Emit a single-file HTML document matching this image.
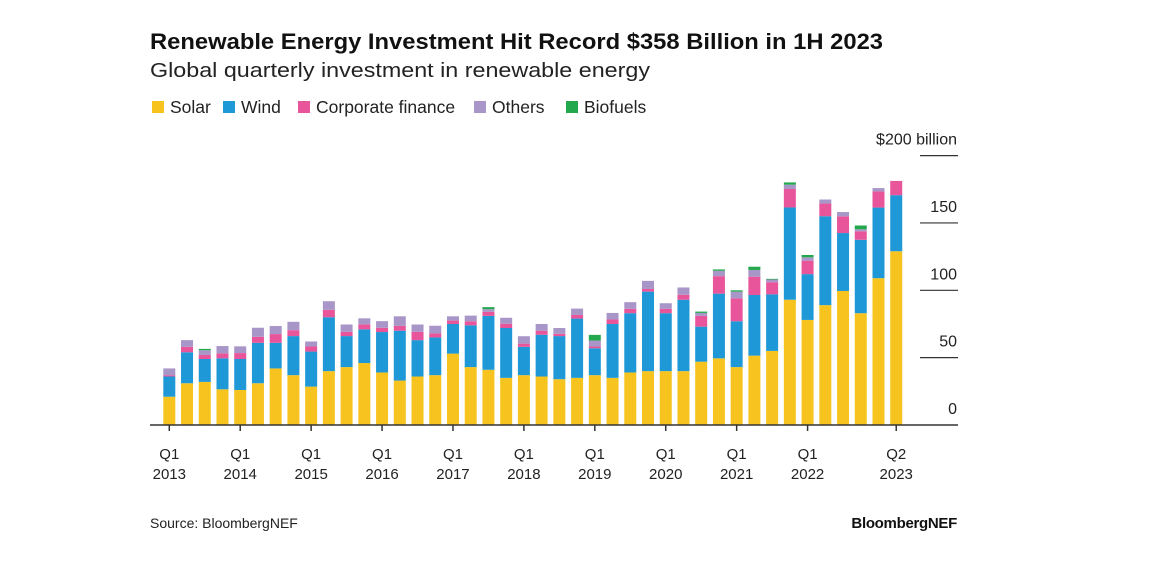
<!DOCTYPE html>
<html><head><meta charset="utf-8"><style>
body{margin:0;background:#fff;}
svg{display:block;font-family:"Liberation Sans",Arial,sans-serif;}
</style></head><body>
<svg id="chart" width="1149" height="574" viewBox="0 0 1149 574">
<text x="150" y="49" font-size="22" font-weight="bold" fill="#111" textLength="733" lengthAdjust="spacingAndGlyphs">Renewable Energy Investment Hit Record $358 Billion in 1H 2023</text>
<text x="150" y="77" font-size="20" fill="#222" textLength="500" lengthAdjust="spacingAndGlyphs">Global quarterly investment in renewable energy</text>
<g id="legend"></g>
<g id="grid"></g>
<g id="bars"></g>
<g id="xaxis"></g>
<text x="150" y="528" font-size="14" fill="#222">Source: BloombergNEF</text>
<text x="957" y="528" font-size="15" font-weight="bold" fill="#111" text-anchor="end" letter-spacing="-0.3">BloombergNEF</text>
</svg>
<script>
const solar=[21,31,32,26.5,26,31,42,37,28.5,40,43,46,39,33,36,37,53,43,41,35,37,36,34,35,37,35,39,40,40,40,47,49.5,43,51.5,55,93,78,89,99.5,83,109,129];
const wind=[15,23,17,23,23,30,19,29,26,40,23,25,30,37,27,28,22,31,40,37,21,31,32,44,20,40,44,59,43,53,26,48,34,45,42,68.5,34,66,43,54.5,52.4,41.6];
const corporate=[1,4,3,3.7,4.4,4.5,6.5,4.4,3.8,5.5,3.2,3.7,3.2,3.7,6.2,3,2.5,3,3,3.2,2.4,3,1.7,2.7,1.3,3.3,3.2,2,3.2,3.7,8,13,17,13.6,9,13.7,10,9.4,12.4,6.3,12,10.6];
const others=[5,5,3.5,5.4,5,6.7,6,6.2,3.7,6.4,5.4,4.5,4.9,7,5.4,5.7,3.2,4.2,2,4.4,5.5,5,4.3,4.7,4.4,4.9,5,6,4.2,5.4,2.2,4,5,5,2,3.2,2.5,3,3.2,1.5,2.5,0];
const biofuels=[0,0,1,0,0,0,0,0,0,0,0,0,0,0,0,0,0,0,1.5,0,0,0,0,0,4.2,0,0,0,0,0,1,1,1,2.4,0.5,1.7,1.7,0,0,2.8,0,0];
const yTicks=[0,50,100,150,200];
const yTickLabels=["0","50","100","150","$200 billion"];
const xTickIndex=[0,4,8,12,16,20,24,28,32,36,41];
const xTickQ=["Q1","Q1","Q1","Q1","Q1","Q1","Q1","Q1","Q1","Q1","Q2"];
const xTickYear=["2013","2014","2015","2016","2017","2018","2019","2020","2021","2022","2023"];
const seriesNames=["Solar","Wind","Corporate finance","Others","Biofuels"];
const colors=["#f7c41f","#1e98d6","#e8559b","#a996c8","#23a84e"];

const NS="http://www.w3.org/2000/svg";
function mk(tag,attrs,parent){const e=document.createElementNS(NS,tag);for(const k in attrs)e.setAttribute(k,attrs[k]);parent.appendChild(e);return e;}
const y0=425, ppu=1.347;
const yS=v=>y0-v*ppu;
const xS=i=>169.3+i*17.73;
const bw=12;

// legend
const lg=document.getElementById('legend');
const lx=[152,223,298,474,566];
seriesNames.forEach((n,i)=>{
  const r=mk('rect',{x:lx[i],y:101,width:12,height:12,fill:colors[i]},lg);
  
  
  const t=mk('text',{x:lx[i]+18,y:113,'font-size':17.5,fill:'#222'},lg);
  t.textContent=n;
  
  
});

// y grid
const g=document.getElementById('grid');
yTicks.forEach((v,i)=>{
  if(v>0){
    const l=mk('line',{x1:920,x2:958,y1:yS(v),y2:yS(v),stroke:'#333','stroke-width':1.2},g);
    
    
  }
  const t=mk('text',{x:957,y:yS(v)-11,'font-size':16,fill:'#222','text-anchor':'end'},g);
  t.textContent=yTickLabels[i];
  
  
});

// bars
const b=document.getElementById('bars');
const series=[solar,wind,corporate,others,biofuels];
solar.forEach((_,i)=>{
  let acc=0;
  series.forEach((s,k)=>{
    const v=s[i]; if(!v) return;
    const r=mk('rect',{x:xS(i)-bw/2,y:yS(acc+v),width:bw,height:v*ppu,fill:colors[k]},b);
    
    
    acc+=v;
  });
});

// x axis
const xa=document.getElementById('xaxis');
const ax=mk('line',{x1:150,x2:958,y1:y0,y2:y0,stroke:'#333','stroke-width':1.5},xa);


xTickIndex.forEach((idx,j)=>{
  const x=xS(idx);
  const tk=mk('line',{x1:x,x2:x,y1:y0,y2:y0+6,stroke:'#333','stroke-width':1.5},xa);
  
  
  const t1=mk('text',{x:x,y:459,'font-size':15,fill:'#222','text-anchor':'middle'},xa);
  t1.textContent=xTickQ[j];
  
  
  const t2=mk('text',{x:x,y:479,'font-size':15,fill:'#222','text-anchor':'middle'},xa);
  t2.textContent=xTickYear[j];
  
  
});
</script>
</body></html>
